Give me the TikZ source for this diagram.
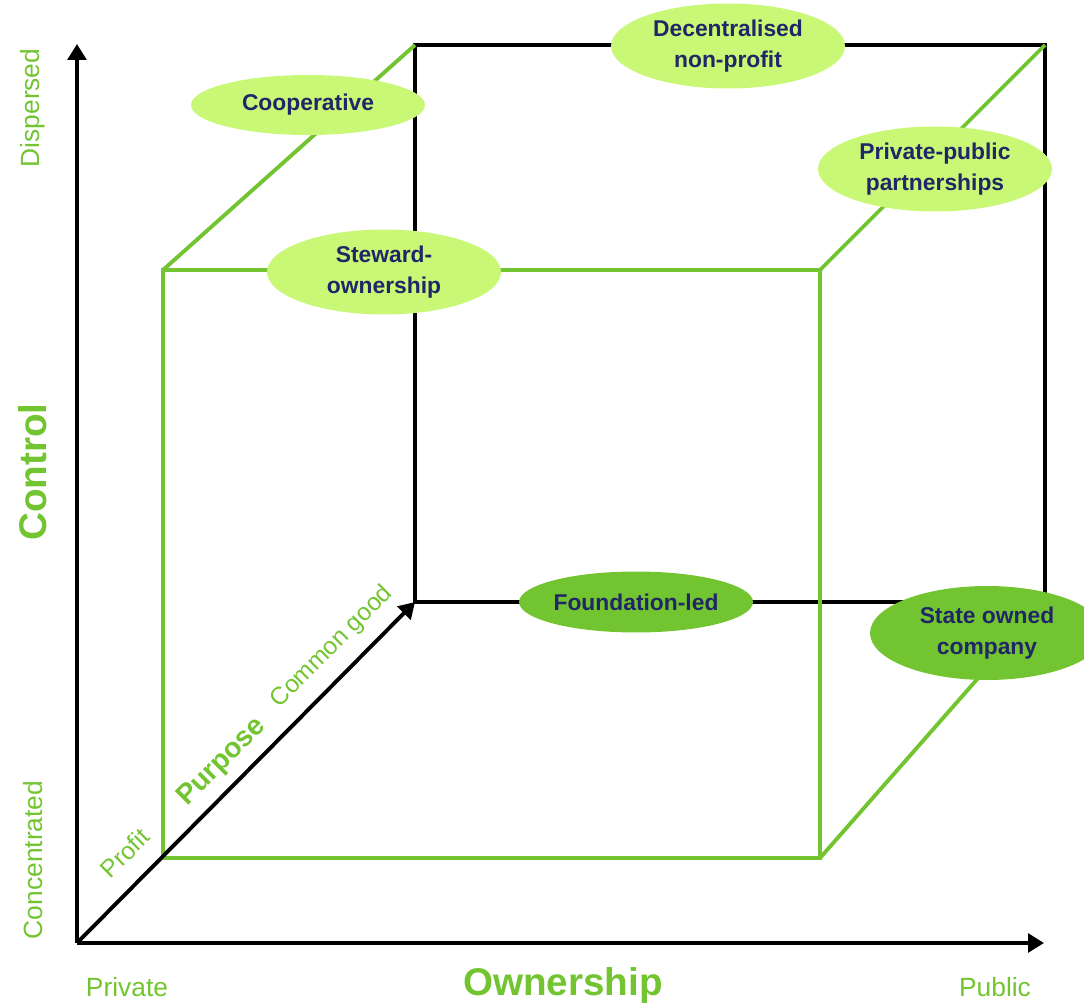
\documentclass[tikz,border=0pt]{standalone}
\usepackage{fontspec}
\setmainfont{Liberation Sans}
\usetikzlibrary{positioning, shapes.geometric, arrows.meta}

\definecolor{leaf}{RGB}{114,197,48}
\definecolor{lime}{RGB}{200,248,118}
\definecolor{ink}{RGB}{32,38,102}

\tikzset{
    org/.style={ellipse, fill=lime, text=ink, inner sep=0pt, align=center,
        font=\fontsize{13}{18}\selectfont\bfseries,
        minimum width=4.68cm, minimum height=1.7cm},
    orgdark/.style={org, fill=leaf},
    axislabel/.style={text=leaf, font=\fontsize{15}{18}\selectfont},
    axistitle/.style={text=leaf, font=\fontsize{22}{26}\selectfont\bfseries},
}

\begin{document}
\begin{tikzpicture}[x=0.02cm, y=-0.02cm, line width=2.2pt,
        axis/.style={-{Triangle[length=9pt, width=10.5pt]}}]
    \useasboundingbox (0,0) rectangle (1084,1006);

    % Corners
    \coordinate (O) at (77,943);
    \coordinate (Y) at (77,44);
    \coordinate (X) at (1044,943);
    \coordinate (F1) at (163,858);
    \coordinate (F2) at (820,858);
    \coordinate (F3) at (820,270);
    \coordinate (F4) at (163,270);
    \coordinate (B1) at (415,602);
    \coordinate (B2) at (1045,602);
    \coordinate (B3) at (1045,45);
    \coordinate (B4) at (415,45);

    % Cube
    \draw (B1) -- (B4) -- (B3) -- (B2) -- cycle;
    \draw[leaf] (F1) -- (F2) -- (F3) -- (F4) -- cycle;
    \draw[leaf] (F4) -- (B4)
                (F3) -- (B3)
                (F2) -- (B2);

    % Axes
    \draw[axis] (O) -- (Y);
    \draw[axis] (O) -- (X);
    \draw[axis] (O) -- (B1);

    % Axis texts
    \node[axislabel, rotate=90] (dispersed) at (33,108) {Dispersed};
    \node[axislabel, rotate=90] (concentrated) at (33,860) {Concentrated};
    \node[axistitle, rotate=90] (control) at (33,472) {Control};
    \node[axislabel] (private) at (127,987) {Private};
    \node[axistitle] (ownership) at (563,985) {Ownership};
    \node[axislabel] (public) at (995,987) {Public};
    \node[axislabel, rotate=45, font=\fontsize{14}{16}\selectfont] (profit) at (125,853) {Profit};
    \node[axistitle, rotate=45, font=\fontsize{16}{18}\selectfont\bfseries] (purpose) at (222,762) {Purpose};
    \node[axislabel, rotate=45, font=\fontsize{14}{16}\selectfont] (commongood) at (332,647) {Common good};

    % Organisations
    \node[org, minimum height=1.2cm] (coop) at (308,105) {Cooperative};
    \node[org] (decentral) at (728,46) {Decentralised\\non-profit};
    \node[org] (ppp) at (935,169) {Private-public\\partnerships};
    \node[org] (steward) at (384,272) {Steward-\\ownership};
    \node[orgdark, minimum height=1.22cm] (foundation) at (636,602) {Foundation-led};
    \node[orgdark, minimum height=1.88cm] (state) at (987,633) {State owned\\company};
\end{tikzpicture}
\end{document}
